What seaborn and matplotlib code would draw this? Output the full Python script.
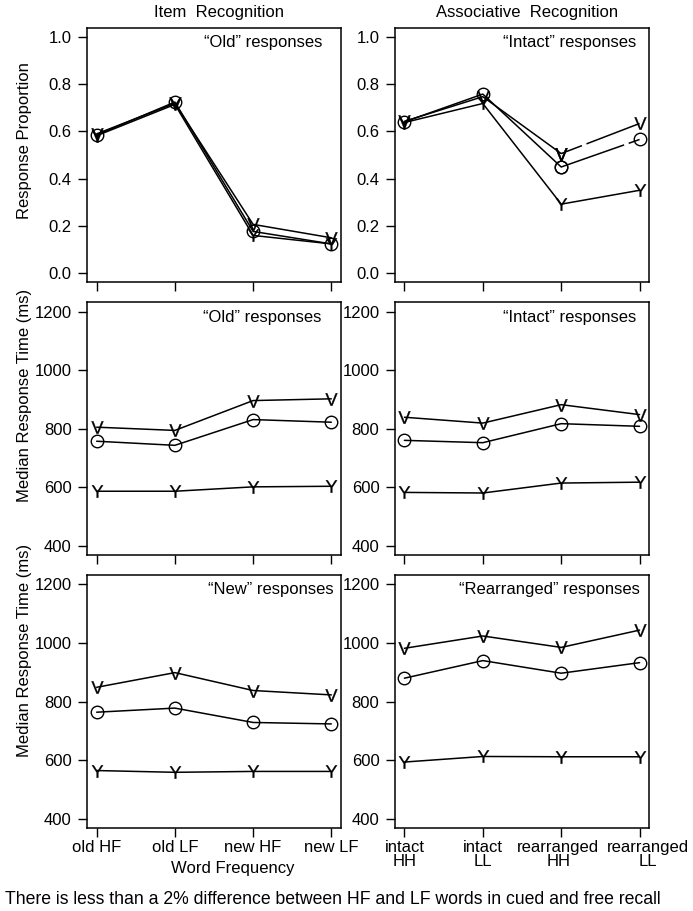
import matplotlib
matplotlib.use('Agg')
import matplotlib.pyplot as plt
import matplotlib.transforms as mtransforms
import seaborn as sns
import pandas as pd

sns.set_style('ticks')
plt.rcParams['font.family'] = ['Liberation Sans', 'DejaVu Sans']
plt.rcParams['mathtext.fontset'] = 'custom'
plt.rcParams['mathtext.sf'] = 'Liberation Sans'
plt.rcParams['mathtext.rm'] = 'Liberation Sans'
plt.rcParams['lines.scale_dashes'] = False
plt.rcParams['font.size'] = 12
for key in ['text.color', 'axes.labelcolor', 'xtick.color', 'ytick.color', 'axes.edgecolor']:
    plt.rcParams[key] = 'black'

# ---------------- data ----------------
item_labels = ['old HF', 'old LF', 'new HF', 'new LF']
assoc_labels = ['intact\nHH', 'intact\nLL', 'rearranged\nHH', 'rearranged\nLL']
series_names = ['V', 'O', 'Y']

item_prop_V = [0.590, 0.720, 0.205, 0.148]
item_prop_O = [0.585, 0.725, 0.175, 0.122]
item_prop_Y = [0.582, 0.715, 0.158, 0.122]

assoc_prop_V = [0.643, 0.748, 0.506, 0.634]
assoc_prop_O = [0.641, 0.759, 0.449, 0.566]
assoc_prop_Y = [0.638, 0.719, 0.291, 0.350]

item_old_rt_V = [805, 794, 896, 902]
item_old_rt_O = [757, 743, 831, 822]
item_old_rt_Y = [586, 586, 601, 603]

assoc_intact_rt_V = [839, 819, 882, 848]
assoc_intact_rt_O = [760, 752, 817, 808]
assoc_intact_rt_Y = [582, 580, 614, 617]

item_new_rt_V = [849, 899, 838, 823]
item_new_rt_O = [764, 778, 729, 724]
item_new_rt_Y = [565, 559, 562, 562]

assoc_rearr_rt_V = [982, 1024, 985, 1044]
assoc_rearr_rt_O = [880, 940, 897, 933]
assoc_rearr_rt_Y = [594, 613, 612, 612]

panel_titles = ['\u201cOld\u201d responses', '\u201cIntact\u201d responses',
                '\u201cOld\u201d responses', '\u201cIntact\u201d responses',
                '\u201cNew\u201d responses', '\u201cRearranged\u201d responses']
prop_ticks = [0.0, 0.2, 0.4, 0.6, 0.8, 1.0]
rt_ticks = [400, 600, 800, 1000, 1200]

# ---------------- styles / layout ----------------
marker_style = {
    'V': dict(marker=r'$\mathsf{V}$', markersize=9, markerfacecolor='black', markeredgewidth=0.2),
    'O': dict(marker='o', markersize=9, markerfacecolor='none', markeredgewidth=1.0),
    'Y': dict(marker=r'$\mathsf{Y}$', markersize=9, markerfacecolor='black', markeredgewidth=0.2),
}

W, H = 693, 911
col_x = [(87.3, 253.4), (395.0, 254.0)]
row_y = [(28.0, 282.0), (302.3, 555.0), (575.0, 828.3)]

fig = plt.figure(figsize=(W / 100, H / 100), dpi=100)

panels = [
    (0, 0, [item_prop_V, item_prop_O, item_prop_Y], 'prop', 0.926),
    (0, 1, [assoc_prop_V, assoc_prop_O, assoc_prop_Y], 'prop', 0.949),
    (1, 0, [item_old_rt_V, item_old_rt_O, item_old_rt_Y], 'rt', 0.922),
    (1, 1, [assoc_intact_rt_V, assoc_intact_rt_O, assoc_intact_rt_Y], 'rt', 0.949),
    (2, 0, [item_new_rt_V, item_new_rt_O, item_new_rt_Y], 'rt', 0.971),
    (2, 1, [assoc_rearr_rt_V, assoc_rearr_rt_O, assoc_rearr_rt_Y], 'rt', 0.965),
]

# dashed final segment in the associative proportion panel
dash_last = {'V': (0, (16, 3.5, 200, 1)), 'O': (0, (48, 3.5, 200, 1))}
# horizontal nudges (px) of the associative tick labels, to avoid overlap
assoc_label_shift = [0, 0, -3, 8]

for k, (r, c, vals, kind, tx) in enumerate(panels):
    x0, w = col_x[c]
    y0, y1 = row_y[r]
    ax = fig.add_axes([x0 / W, 1 - y1 / H, w / W, (y1 - y0) / H])
    for name, v in zip(series_names, vals):
        df = pd.DataFrame({'pos': range(len(v)), 'val': v})
        st = marker_style[name]
        if k == 1 and name in dash_last:
            sns.lineplot(data=df.iloc[:3], x='pos', y='val', ax=ax, color='black',
                         lw=1.1, markeredgecolor='black', legend=False, **st)
            sns.lineplot(data=df.iloc[2:], x='pos', y='val', ax=ax, color='black',
                         lw=1.1, linestyle=dash_last[name], markeredgecolor='black',
                         legend=False, **st)
        else:
            sns.lineplot(data=df, x='pos', y='val', ax=ax, color='black', lw=1.1,
                         markeredgecolor='black', legend=False, **st)
    ax.set_xlim(-0.12, 3.12)
    ax.set_xticks(range(4))
    if kind == 'prop':
        ax.set_ylim(-0.04, 1.04)
        ax.set_yticks(prop_ticks)
        ax.set_yticklabels([f'{t:.1f}' for t in prop_ticks])
    else:
        ax.set_ylim(368, 1232)
        ax.set_yticks(rt_ticks)
        ax.set_yticklabels([str(t) for t in rt_ticks])
    ax.set_xlabel('')
    ax.set_ylabel('')
    for s in ax.spines.values():
        s.set_linewidth(1.1)
        s.set_color('black')
    ax.tick_params(axis='both', direction='out', length=6.2, width=1.0,
                   color='black', labelsize=12, labelcolor='black')
    ax.tick_params(axis='y', pad=5)
    ax.tick_params(axis='x', pad=2.5)
    if r == 2:
        ax.set_xticklabels(item_labels if c == 0 else assoc_labels)
        for i, lab in enumerate(ax.get_xticklabels()):
            lab.set_linespacing(0.85)
            if c == 1 and assoc_label_shift[i]:
                lab.set_transform(lab.get_transform() + mtransforms.ScaledTranslation(
                    assoc_label_shift[i] / 100, 0, fig.dpi_scale_trans))
    else:
        ax.set_xticklabels([])
    ax.text(tx, 0.941, panel_titles[k], transform=ax.transAxes,
            ha='right', va='center', fontsize=12)

fig.text(219 / W, 1 - 13 / H, 'Item  Recognition', ha='center', va='center', fontsize=12)
fig.text(527 / W, 1 - 13 / H, 'Associative  Recognition', ha='center', va='center', fontsize=12)
fig.text(25 / W, 1 - 141 / H, 'Response Proportion', rotation=90, ha='center', va='center', fontsize=12)
fig.text(25 / W, 1 - 395 / H, 'Median Response Time (ms)', rotation=90, ha='center', va='center', fontsize=12)
fig.text(25 / W, 1 - 650 / H, 'Median Response Time (ms)', rotation=90, ha='center', va='center', fontsize=12)
fig.text(233 / W, 1 - 868 / H, 'Word Frequency', ha='center', va='center', fontsize=12)
fig.text(5 / W, 1 - 899 / H,
         'There is less than a 2% difference between HF and LF words in cued and free recall',
         ha='left', va='center', fontsize=12.7)

fig.savefig('out.png', dpi=100)
